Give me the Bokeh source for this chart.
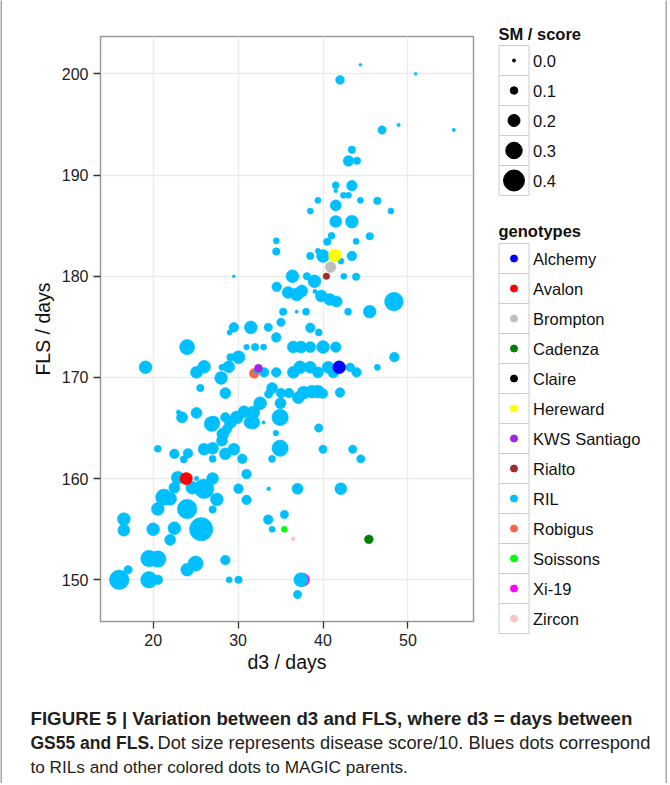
from bokeh.plotting import figure
from bokeh.models import Range1d, FixedTicker, ColumnDataSource
from bokeh.layouts import column, row
from bokeh.embed import file_html
from bokeh.resources import INLINE
from bokeh.core.properties import value

# ---------------- data ----------------
ril_d3 = [44.4, 50.9, 42.0, 46.95, 48.9, 55.4, 43.4, 43.0, 44.0, 41.5,
          41.5, 43.4, 42.4, 43.0, 39.4, 44.4, 46.4, 41.5, 38.5, 48.0,
          41.5, 43.4, 41.0, 45.5, 40.5, 43.9, 34.5, 34.5, 39.4, 38.5,
          40.0, 42.1, 43.4, 42.45, 43.9, 29.5, 36.4, 38.1, 39.0, 34.55,
          35.9, 36.9, 37.5, 39.05, 39.8, 40.8, 41.6, 48.35, 35.3, 36.9,
          38.0, 42.95, 45.5, 35.05, 38.5, 39.5, 34.5, 33.55, 31.5, 29.5,
          29.0, 36.5, 37.4, 38.5, 40.0, 41.5, 31.0, 32.0, 33.0, 24.0,
          48.4, 30.05, 29.1, 19.1, 26.0, 25.1, 28.1, 28.9, 28.0, 33.05,
          32.0, 34.5, 36.5, 37.3, 38.5, 39.4, 40.6, 41.2, 43.2, 43.95,
          46.4, 25.55, 28.5, 34.0, 33.6, 35.05, 36.0, 37.1, 37.7, 38.7,
          39.4, 40.0, 42.0, 32.6, 35.0, 34.95, 30.7, 31.8, 31.4, 31.8,
          33.0, 29.85, 29.1, 28.5, 27.1, 26.9, 25.1, 23.4, 23.0, 28.2,
          28.7, 28.1, 34.45, 39.5, 34.95, 40.0, 43.5, 44.45, 20.55, 22.5,
          24.1, 23.6, 26.0, 27.0, 27.0, 28.5, 29.5, 30.5, 34.0, 31.0,
          30.05, 31.0, 33.6, 37.0, 42.1, 35.45, 33.55, 34.0, 28.5, 28.95,
          30.05, 37.4, 37.0, 22.9, 25.1, 24.6, 26.0, 27.0, 27.5, 27.0,
          22.5, 21.25, 22.0, 20.55, 24.0, 16.55, 16.55, 20.0, 22.5, 22.0,
          25.65, 19.5, 20.55, 24.0, 25.0, 16.0, 17.05, 19.5, 20.55]
ril_fls = [200.9, 200.0, 199.4, 194.45, 194.95, 194.45, 192.5, 191.4, 191.4, 189.0,
           188.45, 188.95, 188.0, 188.0, 187.5, 187.5, 187.45, 187.0, 186.45, 186.45,
           185.4, 185.4, 184.0, 183.95, 183.4, 183.45, 183.5, 182.45, 182.5, 182.0,
           182.0, 181.5, 182.0, 180.0, 179.95, 180.0, 180.0, 180.0, 179.5, 178.95,
           178.4, 178.2, 178.55, 178.5, 178.05, 177.7, 177.5, 177.5, 176.5, 176.5,
           176.5, 176.5, 176.5, 175.45, 174.9, 174.45, 173.95, 174.95, 174.95, 174.95,
           174.45, 173.0, 173.0, 173.0, 173.0, 173.0, 173.0, 173.0, 173.0, 173.0,
           172.0, 172.0, 172.0, 171.0, 171.05, 170.5, 171.0, 171.05, 169.95, 170.5,
           170.55, 170.5, 170.5, 171.0, 171.0, 170.5, 171.0, 170.5, 171.0, 170.5,
           171.0, 168.95, 168.45, 168.95, 168.35, 168.45, 168.45, 168.0, 168.5, 168.6,
           168.6, 168.4, 168.5, 167.45, 167.45, 166.05, 166.6, 166.55, 165.55, 165.55,
           165.55, 166.05, 165.55, 166.05, 165.55, 165.4, 166.5, 166.05, 166.55, 164.4,
           164.9, 163.75, 164.5, 165.0, 163.0, 162.9, 162.9, 161.95, 162.95, 162.45,
           162.5, 161.9, 162.9, 163.0, 161.95, 162.45, 162.9, 161.95, 161.95, 160.45,
           159.0, 157.9, 159.0, 159.0, 159.0, 156.45, 155.95, 155.0, 151.95, 150.0,
           150.0, 150.0, 148.55, 160.1, 160.0, 159.1, 159.0, 160.0, 157.95, 156.95,
           159.1, 158.15, 158.0, 157.0, 157.0, 156.0, 154.9, 155.0, 155.1, 153.95,
           155.0, 152.1, 152.05, 151.0, 151.6, 150.0, 151.0, 150.0, 150.0]
ril_score = [0.0, 0.0, 0.13, 0.12, 0.01, 0.01, 0.1, 0.17, 0.1, 0.09,
             0.02, 0.17, 0.07, 0.07, 0.07, 0.07, 0.1, 0.18, 0.07, 0.07,
             0.2, 0.22, 0.09, 0.1, 0.1, 0.07, 0.07, 0.1, 0.05, 0.1,
             0.22, 0.07, 0.15, 0.07, 0.1, 0.0, 0.22, 0.1, 0.22, 0.15,
             0.2, 0.22, 0.2, 0.03, 0.2, 0.2, 0.18, 0.35, 0.1, 0.01,
             0.09, 0.09, 0.22, 0.12, 0.15, 0.09, 0.15, 0.12, 0.22, 0.15,
             0.05, 0.2, 0.2, 0.18, 0.22, 0.17, 0.06, 0.1, 0.07, 0.27,
             0.15, 0.22, 0.1, 0.22, 0.22, 0.2, 0.07, 0.2, 0.22, 0.15,
             0.01, 0.15, 0.2, 0.22, 0.2, 0.18, 0.2, 0.18, 0.13, 0.15,
             0.07, 0.1, 0.18, 0.18, 0.12, 0.15, 0.15, 0.2, 0.22, 0.22,
             0.22, 0.15, 0.15, 0.22, 0.18, 0.3, 0.2, 0.22, 0.2, 0.22,
             0.01, 0.22, 0.2, 0.15, 0.22, 0.27, 0.18, 0.18, 0.04, 0.2,
             0.15, 0.18, 0.06, 0.12, 0.3, 0.12, 0.12, 0.12, 0.09, 0.15,
             0.15, 0.09, 0.2, 0.2, 0.09, 0.2, 0.2, 0.15, 0.09, 0.15,
             0.15, 0.15, 0.02, 0.18, 0.2, 0.12, 0.15, 0.07, 0.15, 0.07,
             0.1, 0.25, 0.12, 0.22, 0.04, 0.22, 0.37, 0.2, 0.22, 0.1,
             0.18, 0.3, 0.22, 0.22, 0.37, 0.22, 0.2, 0.22, 0.22, 0.18,
             0.45, 0.3, 0.3, 0.22, 0.27, 0.37, 0.12, 0.3, 0.15]

genotypes = ["Alchemy", "Avalon", "Brompton", "Cadenza", "Claire", "Hereward",
             "KWS Santiago", "Rialto", "RIL", "Robigus", "Soissons", "Xi-19", "Zircon"]
# parent points (Claire not visible in the chart)
parent_names = ["Xi-19", "Robigus", "Alchemy", "Avalon", "Brompton", "Cadenza",
                "Hereward", "KWS Santiago", "Rialto", "Soissons", "Zircon"]
parent_d3 = [37.65, 31.9, 41.9, 23.9, 40.9, 45.4, 41.4, 32.4, 40.4, 35.45, 36.5]
parent_fls = [150.0, 170.4, 171.0, 160.0, 180.9, 154.0, 182.05, 170.9, 180.0, 155.0, 154.05]
parent_score = [0.22, 0.15, 0.22, 0.21, 0.17, 0.13, 0.22, 0.11, 0.08, 0.07, 0.02]

size_breaks = [0.0, 0.1, 0.2, 0.3, 0.4]
size_labels = ["0.0", "0.1", "0.2", "0.3", "0.4"]

x_ticks = [20, 30, 40, 50]
y_ticks = [150, 160, 170, 180, 190, 200]

# ---------------- styles ----------------
geno_colors = {"Alchemy": "#0000FF", "Avalon": "#FF0000", "Brompton": "#BEBEBE",
               "Cadenza": "#008000", "Claire": "#000000", "Hereward": "#FFFF00",
               "KWS Santiago": "#A020F0", "Rialto": "#A52A2A", "RIL": "#00BFFF",
               "Robigus": "#FF6347", "Soissons": "#00FF00", "Xi-19": "#FF00FF",
               "Zircon": "#FFC0CB"}
FONT = "Liberation Sans"
TOTAL_H = 783


def dot_size(s):
    return 3 + 45 * s


def blank(fig):
    fig.outline_line_color = None
    fig.grid.visible = False
    fig.background_fill_color = "white"
    fig.border_fill_color = "white"


# ---------------- main plot ----------------
p = figure(frame_width=373, frame_height=585,
           min_border_left=98, min_border_right=10, min_border_top=36, min_border_bottom=77,
           x_range=Range1d(13.8, 57.72), y_range=Range1d(145.88, 203.69),
           output_backend="svg", toolbar_location=None)
p.background_fill_color = "white"
p.border_fill_color = "white"
p.outline_line_color = "#9a9a9a"
p.outline_line_width = 1.5

for ax, ticks, label in ((p.xaxis, x_ticks, "d3 / days"), (p.yaxis, y_ticks, "FLS / days")):
    ax.ticker = FixedTicker(ticks=ticks)
    ax.axis_line_color = None
    ax.major_tick_line_color = "#333333"
    ax.major_tick_line_width = 1.3
    ax.major_tick_out = 7
    ax.major_tick_in = 0
    ax.minor_tick_line_color = None
    ax.major_label_text_font = FONT
    ax.major_label_text_font_size = "16px"
    ax.major_label_text_color = "#222222"
    ax.major_label_standoff = 5
    ax.axis_label = label
    ax.axis_label_text_font = FONT
    ax.axis_label_text_font_size = "19.5px"
    ax.axis_label_text_font_style = "normal"
    ax.axis_label_text_color = "#111111"
p.xaxis.axis_label_standoff = 2
p.yaxis.axis_label_standoff = 5
p.grid.grid_line_color = "#ebebeb"
p.grid.grid_line_width = 1.3


def draw_parent(name):
    idx = [i for i, n in enumerate(parent_names) if n == name]
    src = ColumnDataSource(dict(x=[parent_d3[i] for i in idx], y=[parent_fls[i] for i in idx],
                                s=[dot_size(parent_score[i]) for i in idx]))
    p.scatter("x", "y", size="s", source=src, fill_color=geno_colors[name],
              line_color=geno_colors[name], line_width=0.5)


draw_parent("Xi-19")
draw_parent("Robigus")
ril_src = ColumnDataSource(dict(x=ril_d3, y=ril_fls, s=[dot_size(v) for v in ril_score]))
p.scatter("x", "y", size="s", source=ril_src, fill_color=geno_colors["RIL"],
          line_color=geno_colors["RIL"], line_width=0.5)
for nm in parent_names:
    if nm not in ("Xi-19", "Robigus"):
        draw_parent(nm)

# ---------------- legend panel ----------------
LW, LH = 182, 698
leg = figure(width=LW, height=LH, x_range=Range1d(0, LW), y_range=Range1d(LH, 0),
             min_border=0, x_axis_type=None, y_axis_type=None,
             output_backend="svg", toolbar_location=None)
blank(leg)

box_x = 30.5
text_x = 49.5
size_y = [60 + 30 * i for i in range(len(size_breaks))]
geno_y = [258 + 30 * i for i in range(len(genotypes))]

leg.text(x=[15], y=[33], text=["SM / score"], text_font=value(FONT), text_font_style="bold",
         text_font_size="16.5px", text_baseline="middle", text_color="#111111")
leg.rect(x=[box_x] * len(size_y), y=size_y, width=30, height=30,
         fill_color="white", line_color="#cccccc", line_width=1)
leg.scatter(x=[box_x] * len(size_y), y=size_y, size=[dot_size(v) for v in size_breaks],
            fill_color="black", line_color="black")
leg.text(x=[text_x] * len(size_y), y=size_y, text=size_labels, text_font=value(FONT),
         text_font_size="16.5px", text_baseline="middle", text_color="#111111")

leg.text(x=[15], y=[230], text=["genotypes"], text_font=value(FONT), text_font_style="bold",
         text_font_size="16.5px", text_baseline="middle", text_color="#111111")
leg.rect(x=[box_x] * len(geno_y), y=geno_y, width=30, height=30,
         fill_color="white", line_color="#cccccc", line_width=1)
leg.scatter(x=[box_x] * len(geno_y), y=geno_y, size=7,
            fill_color=[geno_colors[g] for g in genotypes],
            line_color=[geno_colors[g] for g in genotypes])
leg.text(x=[text_x] * len(geno_y), y=geno_y, text=genotypes, text_font=value(FONT),
         text_font_size="16.5px", text_baseline="middle", text_color="#111111")

# ---------------- caption ----------------
CW, CH = 663, TOTAL_H - LH
cap = figure(width=CW, height=CH, x_range=Range1d(0, CW), y_range=Range1d(CH, 0),
             min_border=0, x_axis_type=None, y_axis_type=None,
             output_backend="svg", toolbar_location=None)
blank(cap)

cap_col = "#231f20"
cap.text(x=[28], y=[20], text=["FIGURE 5 | Variation between d3 and FLS, where d3 = days between"],
         text_font=value(FONT), text_font_style="bold", text_font_size="18.7px",
         text_baseline="middle", text_color=cap_col)
cap.text(x=[28], y=[44], text=["GS55 and FLS."],
         text_font=value(FONT), text_font_style="bold", text_font_size="17.5px",
         text_baseline="middle", text_color=cap_col)
cap.text(x=[155], y=[44], text=["Dot size represents disease score/10. Blues dots correspond"],
         text_font=value(FONT), text_font_size="18.3px",
         text_baseline="middle", text_color=cap_col)
cap.text(x=[28], y=[68], text=["to RILs and other colored dots to MAGIC parents."],
         text_font=value(FONT), text_font_size="17.2px",
         text_baseline="middle", text_color=cap_col)

# ---------------- side frame lines ----------------
def strip():
    s = figure(width=2, height=TOTAL_H, x_range=Range1d(0, 1), y_range=Range1d(0, 1),
               min_border=0, x_axis_type=None, y_axis_type=None,
               output_backend="svg", toolbar_location=None)
    s.outline_line_color = None
    s.grid.visible = False
    s.background_fill_color = "#a8a8a8"
    s.border_fill_color = "#a8a8a8"
    return s


layout = row(strip(), column(row(p, column(leg)), cap), strip())
open("out.html", "w").write(file_html(layout, INLINE))
